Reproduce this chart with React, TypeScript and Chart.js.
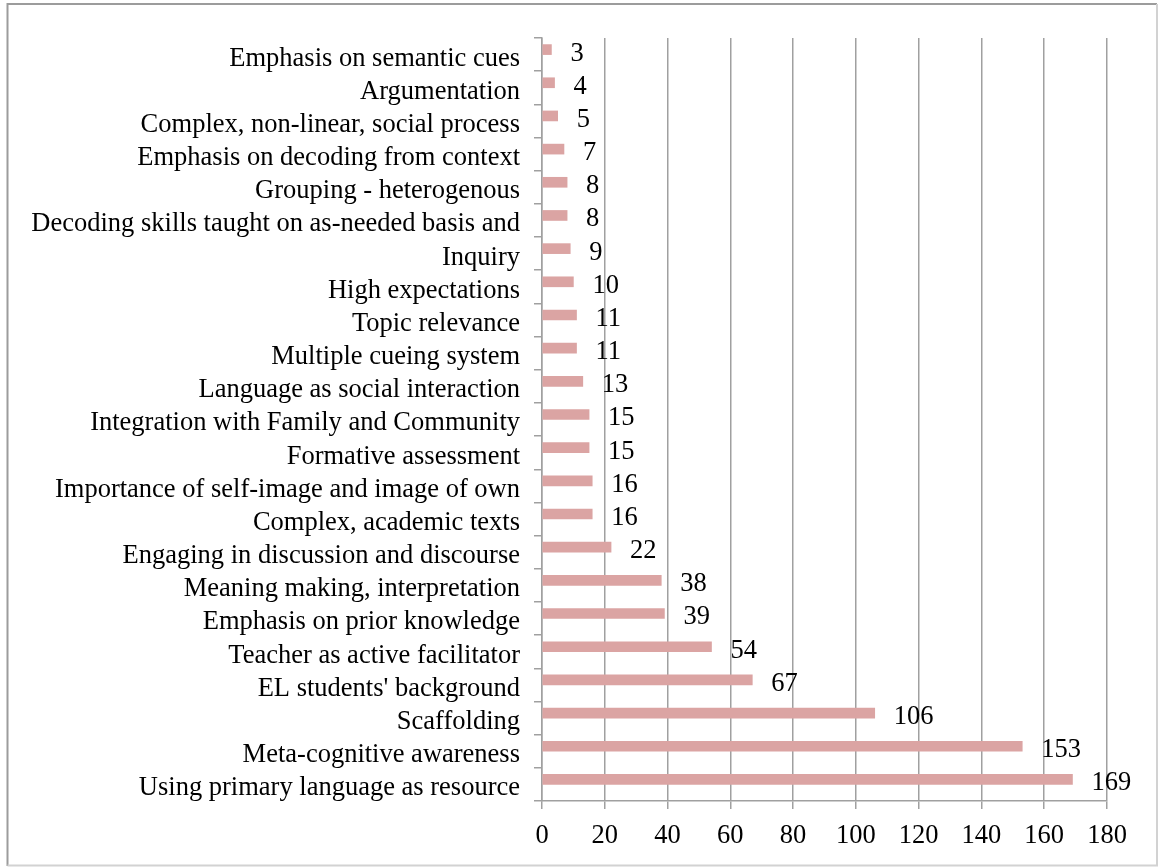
import React, { useEffect, useRef } from "react";
import { Chart, registerables } from "chart.js";

Chart.register(...registerables);

const categories: string[] = [
  "Emphasis on semantic cues",
  "Argumentation",
  "Complex, non-linear, social process",
  "Emphasis on decoding from context",
  "Grouping - heterogenous",
  "Decoding skills taught on as-needed basis and",
  "Inquiry",
  "High expectations",
  "Topic relevance",
  "Multiple cueing system",
  "Language as social interaction",
  "Integration with Family and Community",
  "Formative assessment",
  "Importance of self-image and image of own",
  "Complex, academic texts",
  "Engaging in discussion and discourse",
  "Meaning making, interpretation",
  "Emphasis on prior knowledge",
  "Teacher as active facilitator",
  "EL students' background",
  "Scaffolding",
  "Meta-cognitive awareness",
  "Using primary language as resource",
];

const counts: number[] = [
  3, 4, 5, 7, 8, 8, 9, 10, 11, 11, 13, 15, 15, 16, 16, 22, 38, 39, 54, 67, 106, 153, 169,
];

const xTickMin = 0;
const xTickMax = 180;
const xTickStep = 20;

const FONT = "'Liberation Serif', 'Times New Roman', serif";
const FSIZE = 26.5;
const GRID = "#a0a0a0";
const BAR = "#dba4a3";

const frame = {
  id: "frame",
  beforeDraw(chart: any) {
    const ctx = chart.ctx;
    ctx.save();
    ctx.fillStyle = "#ffffff";
    ctx.fillRect(0, 0, chart.width, chart.height);
    ctx.lineWidth = 2;
    ctx.strokeStyle = "#9c9c9c";
    ctx.beginPath();
    ctx.moveTo(7.5, 866);
    ctx.lineTo(7.5, 4);
    ctx.lineTo(1157, 4);
    ctx.stroke();
    ctx.strokeStyle = "#d2d2d2";
    ctx.beginPath();
    ctx.moveTo(1157, 4);
    ctx.lineTo(1157, 865.5);
    ctx.lineTo(7.5, 865.5);
    ctx.stroke();
    ctx.restore();
  },
};

const valueLabels = {
  id: "valueLabels",
  afterDatasetsDraw(chart: any) {
    const ctx = chart.ctx;
    const meta = chart.getDatasetMeta(0);
    const data = chart.data.datasets[0].data;
    ctx.save();
    ctx.font = `${FSIZE}px ${FONT}`;
    ctx.fillStyle = "#000";
    ctx.textAlign = "left";
    ctx.textBaseline = "middle";
    meta.data.forEach((el: any, i: number) => {
      ctx.fillText(String(data[i]), el.x + 19, el.y + 4);
    });
    ctx.restore();
  },
};

export default function App() {
  const ref = useRef<HTMLCanvasElement | null>(null);

  useEffect(() => {
    if (!ref.current) return;
    const chart = new Chart(ref.current, {
      type: "bar",
      data: {
        labels: categories,
        datasets: [
          {
            label: "Count",
            data: counts,
            backgroundColor: BAR,
            barThickness: 10,
          },
          {
            label: "",
            data: counts.map(() => null),
            backgroundColor: "rgba(0,0,0,0)",
            barThickness: 10,
          },
        ],
      },
      options: {
        indexAxis: "y",
        responsive: false,
        animation: false,
        devicePixelRatio: 1,
        layout: { padding: { top: 38, right: 53, left: 0, bottom: 0 } },
        plugins: {
          legend: { display: false },
          tooltip: { enabled: false },
          title: { display: false },
        },
        scales: {
          x: {
            type: "linear",
            min: xTickMin,
            max: xTickMax,
            ticks: {
              stepSize: xTickStep,
              color: "#000",
              font: { family: FONT, size: FSIZE },
              padding: 11,
              maxRotation: 0,
            },
            grid: { color: GRID, lineWidth: 1.5, tickLength: 8, drawTicks: true },
            border: { color: GRID, width: 1.5 },
            afterFit(scale: any) {
              scale.height = 66;
            },
          },
          y: {
            type: "category",
            ticks: {
              color: "#000",
              font: { family: FONT, size: FSIZE },
              padding: 14,
              labelOffset: 4,
              autoSkip: false,
            },
            grid: {
              offset: true,
              drawOnChartArea: false,
              color: GRID,
              lineWidth: 1.5,
              tickLength: 8,
            },
            border: { color: GRID, width: 1.5 },
            afterFit(scale: any) {
              scale.width = 542;
            },
          },
        },
      },
      plugins: [frame, valueLabels],
    });
    return () => chart.destroy();
  }, []);

  return (
    <div style={{ position: "absolute", left: 0, top: 0, width: 1160, height: 867 }}>
      <canvas ref={ref} width={1160} height={867} />
    </div>
  );
}
